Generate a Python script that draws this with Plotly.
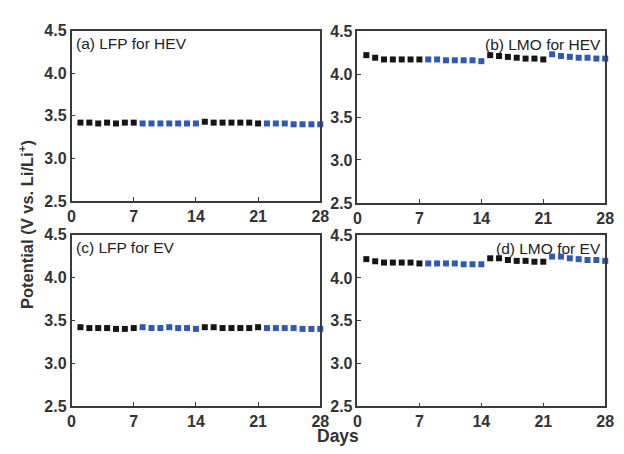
import plotly.graph_objects as go

days = list(range(1, 29))
lfp_hev = [3.42, 3.42, 3.41, 3.42, 3.41, 3.42, 3.42,
           3.41, 3.41, 3.41, 3.41, 3.41, 3.41, 3.41,
           3.43, 3.42, 3.42, 3.42, 3.42, 3.42, 3.41,
           3.41, 3.41, 3.41, 3.40, 3.40, 3.40, 3.40]
lmo_hev = [4.22, 4.19, 4.17, 4.17, 4.17, 4.17, 4.17,
           4.17, 4.17, 4.16, 4.16, 4.16, 4.16, 4.15,
           4.22, 4.21, 4.20, 4.19, 4.18, 4.18, 4.17,
           4.23, 4.21, 4.20, 4.19, 4.19, 4.18, 4.18]
lfp_ev = [3.42, 3.41, 3.41, 3.41, 3.40, 3.40, 3.41,
          3.42, 3.41, 3.41, 3.42, 3.41, 3.41, 3.40,
          3.42, 3.42, 3.41, 3.41, 3.41, 3.41, 3.42,
          3.41, 3.41, 3.41, 3.41, 3.40, 3.40, 3.40]
lmo_ev = [4.22, 4.195, 4.18, 4.18, 4.18, 4.18, 4.17,
          4.17, 4.17, 4.17, 4.17, 4.16, 4.16, 4.16,
          4.23, 4.23, 4.21, 4.20, 4.20, 4.19, 4.19,
          4.25, 4.25, 4.23, 4.22, 4.21, 4.21, 4.20]
panel_labels = ["(a) LFP for HEV", "(b) LMO for HEV", "(c) LFP for EV", "(d) LMO for EV"]
x_ticks = [0, 7, 14, 21, 28]
y_ticks = [2.5, 3.0, 3.5, 4.0, 4.5]

BLACK = "#151515"
BLUE = "#2f58b8"
FRAME = "#3a3a3a"
FONT = "Liberation Sans, Arial"

W, H = 624, 454
# pixel boxes (left, right, top, bottom)
boxes = [(69, 323, 23.5, 200.5), (361, 614, 24, 202.5),
         (69, 323, 235.5, 413.5), (361, 614, 236, 414)]
series = [lfp_hev, lmo_hev, lfp_ev, lmo_ev]

fig = go.Figure()
layout = {}
for i, (box, vals, lab) in enumerate(zip(boxes, series, panel_labels)):
    n = i + 1
    xa = "xaxis" if n == 1 else f"xaxis{n}"
    ya = "yaxis" if n == 1 else f"yaxis{n}"
    xr = "x" if n == 1 else f"x{n}"
    yr = "y" if n == 1 else f"y{n}"
    l, r, t, b = box
    colors = [BLACK if ((d - 1) // 7) % 2 == 0 else BLUE for d in days]
    fig.add_trace(go.Scatter(x=days, y=vals, mode="markers", xaxis=xr, yaxis=yr,
                             marker=dict(symbol="square", size=6, color=colors,
                                         line=dict(width=0)),
                             showlegend=False, cliponaxis=False))
    common = dict(showline=True, mirror=True, linecolor=FRAME, linewidth=1.5,
                  ticks="inside", ticklen=4, tickwidth=1, tickcolor=FRAME,
                  showgrid=False, zeroline=False,
                  tickfont=dict(family=FONT, size=16, color="#333333", weight="bold"))
    layout[xa] = dict(domain=[l / W, r / W], range=[0, 28], tickvals=x_ticks,
                      anchor=yr, **common)
    layout[ya] = dict(domain=[1 - b / H, 1 - t / H], range=[2.5, 4.5], tickvals=y_ticks,
                      tickformat=".1f", anchor=xr, **common)
    left = (i % 2 == 0)
    fig.add_annotation(x=0.01 if left else 0.99, y=0.985,
                       xref=f"{xr} domain", yref=f"{yr} domain",
                       xanchor="left" if left else "right", yanchor="top",
                       text=lab, showarrow=False,
                       font=dict(family=FONT, size=15.5, color="#222222"))

fig.add_annotation(x=341 / W, y=1 - 445 / H, xref="paper", yref="paper",
                   xanchor="center", yanchor="middle",
                   text="<b>Days</b>", showarrow=False,
                   font=dict(family=FONT, size=17.5, color="#333333"))
fig.add_annotation(x=22 / W, y=1 - 225 / H, xref="paper", yref="paper",
                   xanchor="center", yanchor="middle",
                   text="<b>Potential (V vs. Li/Li<sup>+</sup>)</b>", textangle=-90,
                   showarrow=False,
                   font=dict(family=FONT, size=16.5, color="#333333"))

fig.update_layout(width=W, height=H, margin=dict(l=0, r=0, t=0, b=0),
                  paper_bgcolor="white", plot_bgcolor="white", **layout)
fig.write_html("out.html")
